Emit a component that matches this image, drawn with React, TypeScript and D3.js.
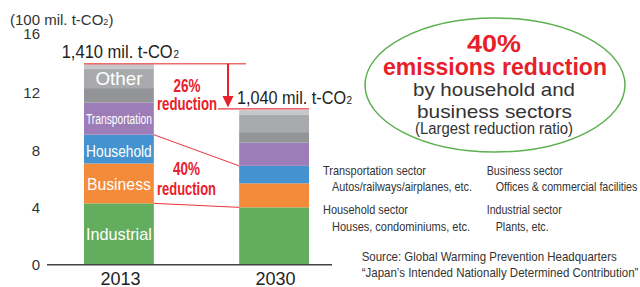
import React from "react";
import * as d3 from "d3";

const categories = ["2013", "2030"];
const sectors = ["Industrial", "Business", "Household", "Transportation", "Energy conversion", "Other", "Fluorinated gases"];
const values2013 = [4.29, 2.79, 2.01, 2.25, 1.01, 1.33, 0.38];
const values2030 = [4.01, 1.68, 1.22, 1.63, 0.73, 1.24, 0.3];
const sectorColors = ["#63ad5e", "#f38b3a", "#4493d0", "#9c7db7", "#929497", "#a8aaad", "#c6c7c9"];
const yTicks = [0, 4, 8, 12, 16];
const totalLabels = ["1,410 mil. t-CO", "1,040 mil. t-CO"];
const unitLabel = "(100 mil. t-CO";
const barLabels = [
  { sector: "Industrial", text: "Industrial", size: 17, len: 65.7, dy: 5.5 },
  { sector: "Business", text: "Business", size: 17, len: 64, dy: 6.5 },
  { sector: "Household", text: "Household", size: 17, len: 65.7, dy: 7.5 },
  { sector: "Transportation", text: "Transportation", size: 14, len: 66, dy: 5 },
  { sector: "Other", text: "Other", size: 18, len: 47, dy: 6.5 },
];
const legendItems = [
  { title: "Transportation sector", desc: "Autos/railways/airplanes, etc.", tl: 103, dl: 140 },
  { title: "Business sector", desc: "Offices & commercial facilities", tl: 76, dl: 141.7 },
  { title: "Household sector", desc: "Houses, condominiums, etc.", tl: 85, dl: 138 },
  { title: "Industrial sector", desc: "Plants, etc.", tl: 75, dl: 53 },
];
const calloutLines = ["40%", "emissions reduction", "by household and", "business sectors", "(Largest reduction ratio)"];
const sourceLines = ["Source: Global Warming Prevention Headquarters", "\u201cJapan\u2019s Intended Nationally Determined Contribution\u201d"];

const FONT = "'Liberation Sans', Arial, Helvetica, sans-serif";
const RED = "#e8202a";

export default function App() {
  const width = 640, height = 287;
  const y = d3.scaleLinear().domain([0, 16]).range([264.7, 264.7 - 16 * 14.3]);
  const x = d3.scaleBand().domain(categories).range([84, 309]).paddingInner(0.55).paddingOuter(0);
  const bw = x.bandwidth();

  const rows = [values2013, values2030].map((vals, i) => {
    const o: any = { cat: categories[i] };
    sectors.forEach((s, j) => (o[s] = vals[j]));
    return o;
  });
  const stack = d3.stack().keys(sectors)(rows as any);
  const top = (cat: string, sector: string) => {
    const s = stack.find((l) => l.key === sector)!;
    const idx = categories.indexOf(cat);
    return s[idx];
  };
  const totals = [values2013, values2030].map((v) => d3.sum(v));

  const x13 = x("2013")!, x30 = x("2030")!;
  const arrowX = 228;
  const yT13 = y(totals[0]);
  const yT30 = y(totals[1]) - 1.2;

  return (
    <svg width={width} height={height} style={{ position: "absolute", left: 0, top: 0 }} fontFamily={FONT}>
      {/* bars */}
      {stack.map((layer, li) =>
        layer.map((d, i) => (
          <rect key={li + "-" + i} x={x(categories[i])} width={bw} y={y(d[1])} height={y(d[0]) - y(d[1])} fill={sectorColors[li]} />
        ))
      )}
      {/* axis */}
      <line x1={47} x2={332} y1={y(0)} y2={y(0)} stroke="#444" strokeWidth={1.5} />
      {yTicks.map((t) => (
        <text key={t} x={40} y={y(t) + 5.3 - (t === 16 ? 2.5 : 0)} textAnchor="end" fontSize={15} fill="#333">{t}</text>
      ))}
      {categories.map((c) => (
        <text key={c} x={x(c)! + bw / 2 + 1.5} y={285} textAnchor="middle" fontSize={18} fill="#222">{c}</text>
      ))}
      <text x={10} y={25} fontSize={15} fill="#333">{unitLabel}<tspan fontSize={9}>2</tspan>)</text>

      {/* labels inside 2013 bar */}
      {barLabels.map((b) => {
        const d = top("2013", b.sector);
        const mid = (y(d[0]) + y(d[1])) / 2;
        return (
          <text key={b.text} x={x13 + bw / 2} y={mid + b.dy} textAnchor="middle" fontSize={b.size} fill="#fff"
            textLength={b.len} lengthAdjust="spacingAndGlyphs">{b.text}</text>
        );
      })}

      {/* totals */}
      <line x1={x13} x2={246} y1={yT13} y2={yT13} stroke="#ef6a6a" strokeWidth={1.5} />
      <line x1={218} x2={x30 + bw} y1={yT30} y2={yT30} stroke="#e8343b" strokeWidth={1.3} />
      <line x1={arrowX} x2={arrowX} y1={yT13} y2={yT30 - 8} stroke={RED} strokeWidth={2} />
      <path d={`M${arrowX - 5.5},${yT30 - 13} L${arrowX + 5.5},${yT30 - 13} L${arrowX},${yT30 - 1.5} Z`} fill={RED} />
      <text x={61.7} y={58} fontSize={18} fill="#222" textLength={111} lengthAdjust="spacingAndGlyphs">{totalLabels[0]}</text>
      <text x={173.5} y={58} fontSize={10} fill="#222">2</text>
      <text x={237} y={104} fontSize={18} fill="#222" textLength={109} lengthAdjust="spacingAndGlyphs">{totalLabels[1]}</text>
      <text x={346.5} y={104} fontSize={10} fill="#222">2</text>

      {/* reduction labels */}
      <text x={187} y={92} textAnchor="middle" fontSize={18} fontWeight="bold" fill={RED} textLength={27} lengthAdjust="spacingAndGlyphs">26%</text>
      <text x={187} y={110} textAnchor="middle" fontSize={18} fontWeight="bold" fill={RED} textLength={60} lengthAdjust="spacingAndGlyphs">reduction</text>
      <text x={186.5} y={175} textAnchor="middle" fontSize={18} fontWeight="bold" fill={RED} textLength={27} lengthAdjust="spacingAndGlyphs">40%</text>
      <text x={186.5} y={195} textAnchor="middle" fontSize={18} fontWeight="bold" fill={RED} textLength={59} lengthAdjust="spacingAndGlyphs">reduction</text>

      {/* connecting lines for household+business */}
      <line x1={x13 + bw} x2={x30} y1={y(top("2013", "Household")[1])} y2={y(top("2030", "Household")[1])} stroke="#e8343b" strokeWidth={1} />
      <line x1={x13 + bw} x2={x30} y1={y(top("2013", "Industrial")[1])} y2={y(top("2030", "Industrial")[1])} stroke="#e8343b" strokeWidth={1} />

      {/* callout ellipse */}
      <ellipse cx={495} cy={85} rx={130} ry={67} fill="none" stroke="#5cb04f" strokeWidth={1.5} />
      <text x={494} y={51.7} textAnchor="middle" fontSize={24} fontWeight="bold" fill={RED} textLength={54} lengthAdjust="spacingAndGlyphs">{calloutLines[0]}</text>
      <text x={495} y={75} textAnchor="middle" fontSize={24} fontWeight="bold" fill={RED} textLength={224} lengthAdjust="spacingAndGlyphs">{calloutLines[1]}</text>
      <text x={494} y={96} textAnchor="middle" fontSize={19} fill="#333" textLength={162} lengthAdjust="spacingAndGlyphs">{calloutLines[2]}</text>
      <text x={494.5} y={118} textAnchor="middle" fontSize={19} fill="#333" textLength={155} lengthAdjust="spacingAndGlyphs">{calloutLines[3]}</text>
      <text x={494} y={134} textAnchor="middle" fontSize={16} fill="#333" textLength={158} lengthAdjust="spacingAndGlyphs">{calloutLines[4]}</text>

      {/* legend */}
      {legendItems.map((l, i) => {
        const col = i % 2, row = Math.floor(i / 2);
        const lx = col === 0 ? 323 : 486.7;
        const ly = row === 0 ? 174.5 : 214;
        return (
          <g key={l.title}>
            <text x={lx} y={ly} fontSize={13} fill="#333" textLength={l.tl} lengthAdjust="spacingAndGlyphs">{l.title}</text>
            <text x={lx + 9} y={ly + 16.5} fontSize={13} fill="#333" textLength={l.dl} lengthAdjust="spacingAndGlyphs">{l.desc}</text>
          </g>
        );
      })}

      {/* source */}
      <text x={361.7} y={260.5} fontSize={13} fill="#333" textLength={255} lengthAdjust="spacingAndGlyphs">{sourceLines[0]}</text>
      <text x={361.7} y={277} fontSize={13} fill="#333" textLength={276.7} lengthAdjust="spacingAndGlyphs">{sourceLines[1]}</text>
    </svg>
  );
}
